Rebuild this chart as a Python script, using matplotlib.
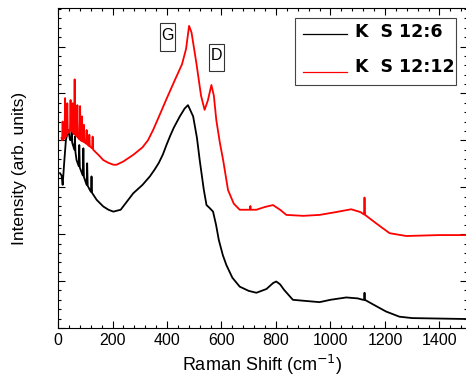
import matplotlib
matplotlib.use("Agg")
import matplotlib.pyplot as plt
from matplotlib.patches import Rectangle
from matplotlib.lines import Line2D
from matplotlib.ticker import MultipleLocator, NullFormatter

plt.rcParams['font.family'] = ['Liberation Sans', 'DejaVu Sans']

# Raman spectra (x in cm^-1, intensity in arb. units)
black_x = [7, 13, 17, 23, 29, 38, 44, 48, 50, 52, 60, 62, 64, 68, 76, 78, 80, 91,
           93, 95, 105, 107, 109, 117, 121, 123, 125, 142, 166, 185, 203, 230,
           276, 310, 337, 355, 370, 385, 398, 412, 425, 447, 465, 477, 496, 510,
           520, 535, 545, 556, 569, 580, 590, 605, 618, 640, 667, 700, 728, 765,
           790, 801, 815, 830, 862, 900, 960, 1000, 1058, 1100, 1119, 1124, 1125,
           1126, 1160, 1204, 1253, 1300, 1400, 1500]
black_y = [3.30, 3.25, 3.05, 3.55, 4.01, 4.22, 4.01, 4.00, 4.19, 3.95, 3.80, 4.08,
           3.75, 3.58, 3.45, 3.90, 3.42, 3.25, 3.83, 3.22, 3.05, 3.51, 3.03, 2.94,
           2.90, 3.23, 2.88, 2.73, 2.59, 2.52, 2.48, 2.52, 2.87, 3.05, 3.23, 3.38,
           3.52, 3.70, 3.90, 4.10, 4.27, 4.51, 4.68, 4.75, 4.51, 4.05, 3.58, 2.95,
           2.62, 2.56, 2.48, 2.20, 1.88, 1.55, 1.34, 1.07, 0.88, 0.79, 0.75, 0.83,
           0.96, 0.99, 0.93, 0.81, 0.60, 0.58, 0.55, 0.60, 0.65, 0.63, 0.60, 0.60,
           0.75, 0.60, 0.49, 0.35, 0.24, 0.21, 0.20, 0.19]

red_x = [13, 15, 17, 19, 24, 26, 28, 32, 34, 36, 44, 46, 48, 52, 54, 56, 59, 61,
         63, 69, 71, 73, 79, 81, 83, 86, 88, 90, 93, 95, 97, 103, 105, 107, 113,
         115, 117, 125, 127, 129, 150, 166, 185, 203, 215, 240, 276, 310, 330,
         349, 370, 398, 430, 455, 470, 481, 490, 508, 525, 538, 550, 563, 572,
         581, 594, 606, 624, 645, 667, 704, 706, 708, 728, 760, 789, 815, 838,
         900, 960, 1020, 1076, 1110, 1123, 1125, 1127, 1170, 1217, 1278, 1400,
         1500]
red_y = [4.05, 4.00, 4.40, 4.02, 4.05, 4.90, 4.08, 4.12, 4.79, 4.15, 4.22, 4.86,
         4.20, 4.18, 4.79, 4.16, 4.13, 5.30, 4.12, 4.08, 4.75, 4.06, 4.02, 4.73,
         4.00, 3.99, 4.51, 3.98, 3.97, 4.33, 3.96, 3.93, 4.22, 3.92, 3.88, 4.12,
         3.87, 3.83, 4.08, 3.80, 3.68, 3.58, 3.52, 3.48, 3.48, 3.55, 3.69, 3.85,
         4.00, 4.22, 4.50, 4.88, 5.30, 5.62, 5.95, 6.44, 6.30, 5.64, 4.95, 4.65,
         4.85, 5.18, 4.95, 4.43, 3.95, 3.58, 2.94, 2.65, 2.52, 2.52, 2.60, 2.52,
         2.52, 2.58, 2.62, 2.52, 2.41, 2.39, 2.41, 2.47, 2.53, 2.47, 2.42, 2.78,
         2.41, 2.22, 2.02, 1.96, 1.98, 1.98]

labels = ['K  S 12:6', 'K  S 12:12']
colors = ['black', 'red']

fig = plt.figure(figsize=(4.66, 3.84), dpi=100)
ax = fig.add_axes([0.1245, 0.146, 0.877, 0.833])

ax.plot(black_x, black_y, color=colors[0], lw=1.3)
ax.plot(red_x, red_y, color=colors[1], lw=1.3)

ax.set_xlim(0, 1500)
ax.set_ylim(0, 6.82)
ax.xaxis.set_major_locator(MultipleLocator(200))
ax.xaxis.set_minor_locator(MultipleLocator(40))
ax.yaxis.set_major_locator(MultipleLocator(1))
ax.yaxis.set_minor_locator(MultipleLocator(0.2))
ax.yaxis.set_major_formatter(NullFormatter())
ax.tick_params(which='both', direction='in', top=True, right=True, labelsize=11.5, width=0.8)
ax.tick_params(which='major', length=5)
ax.tick_params(which='minor', length=2.5)
for s in ax.spines.values():
    s.set_linewidth(0.8)

ax.set_xlabel('Raman Shift (cm$^{-1}$)', fontsize=13, labelpad=4)
ax.set_ylabel('Intensity (arb. units)', fontsize=12.5, labelpad=19)

# peak labels in boxes
tr = ax.transAxes
for (x0, y0, x1, y1), s in [((0.2494, 0.8656, 0.2861, 0.9531), 'G'),
                            ((0.3692, 0.8031, 0.4059, 0.8875), 'D')]:
    ax.add_patch(Rectangle((x0, y0), x1 - x0, y1 - y0, transform=tr, fill=False,
                           ec='#333333', lw=0.8))
    ax.text((x0 + x1) / 2, (y0 + y1) / 2 + 0.006, s, transform=tr, fontsize=11.5,
            ha='center', va='center')

# legend box drawn by hand to match the original layout
ax.add_patch(Rectangle((0.5795, 0.759), 0.3935, 0.21, transform=tr, fc='white',
                       ec='#444444', lw=0.8, zorder=5))
for lab, col, yb, yl in zip(labels, colors, [0.9084, 0.7991], [0.919, 0.8009]):
    ax.add_line(Line2D([0.599, 0.7066], [yl, yl], transform=tr, color=col, lw=0.9, zorder=6))
    ax.text(0.726, yb, lab, transform=tr, family='DejaVu Sans', weight='bold',
            fontsize=12.5, va='baseline', ha='left', zorder=6)

fig.savefig('out.png', dpi=100)
